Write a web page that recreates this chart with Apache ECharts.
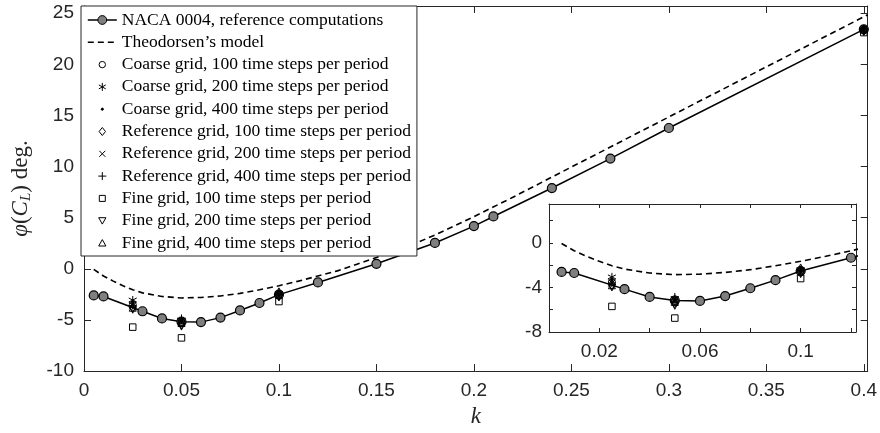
<!DOCTYPE html>
<html><head><meta charset="utf-8">
<script src="https://cdn.jsdelivr.net/npm/echarts@6/dist/echarts.min.js"></script>
<style>html,body{margin:0;padding:0;background:#fff}#c{width:880px;height:433px}</style>
</head><body><div id="c"></div>
<script>
// ---- data ----
const kRef   = [0.005, 0.01, 0.03, 0.04, 0.05, 0.06, 0.07, 0.08, 0.09, 0.1, 0.12, 0.15, 0.18, 0.2, 0.21, 0.24, 0.27, 0.3, 0.4];
const phiRef = [-2.6, -2.7, -4.15, -4.85, -5.17, -5.21, -4.77, -4.07, -3.34, -2.52, -1.33, 0.49, 2.53, 4.18, 5.12, 7.9, 10.78, 13.77, 23.42];
const kTheo   = [0.005, 0.01, 0.015, 0.02, 0.025, 0.03, 0.04, 0.05, 0.06, 0.07, 0.08, 0.09, 0.1, 0.11, 0.12, 0.13, 0.14, 0.15, 0.16, 0.17, 0.18, 0.19, 0.2, 0.22, 0.25, 0.3, 0.35, 0.4, 0.402];
const phiTheo = [-0.05, -0.7, -1.2, -1.65, -2.05, -2.35, -2.7, -2.85, -2.8, -2.65, -2.4, -2.05, -1.65, -1.2, -0.7, -0.2, 0.45, 1.1, 1.8, 2.5, 3.3, 4.2, 5.1, 7.0, 9.95, 14.85, 19.75, 24.65, 24.85];
const kStudy    = [0.025, 0.05, 0.1, 0.4];
const coarse100 = [-3.5, -5.2, -2.5, 23.4];
const coarse200 = [-3.05, -5.0, -2.4, 23.3];
const coarse400 = [-3.3, -5.1, -2.55, 23.4];
const ref100    = [-3.75, -5.4, -2.6, 23.3];
const ref200    = [-3.6, -5.2, -2.6, 23.4];
const ref400    = [-3.6, -4.85, -2.5, 23.2];
const fine100   = [-5.7, -6.75, -3.2, 23.1];
const fine200   = [-4.0, -5.65, -2.8, 23.2];
const fine400   = [-3.8, -5.3, -2.2, 23.5];
const seriesNames = [
  'NACA 0004, reference computations',
  'Theodorsen\u2019s model',
  'Coarse grid, 100 time steps per period',
  'Coarse grid, 200 time steps per period',
  'Coarse grid, 400 time steps per period',
  'Reference grid, 100 time steps per period',
  'Reference grid, 200 time steps per period',
  'Reference grid, 400 time steps per period',
  'Fine grid, 100 time steps per period',
  'Fine grid, 200 time steps per period',
  'Fine grid, 400 time steps per period'
];
const mainXTickLabels  = ['0', '0.05', '0.1', '0.15', '0.2', '0.25', '0.3', '0.35', '0.4'];
const mainYTickLabels  = ['-10', '-5', '0', '5', '10', '15', '20', '25'];
const insetXTickLabels = ['0.02', '0.06', '0.1'];
const insetYTickLabels = ['-8', '-4', '0'];

// ---- styling ----
const AX = '#262626';
const pad = 'M-5.5,-5.5M5.5,5.5';
const markerDefs = [
  { data: coarse100, symbol: 'circle', size: 7, fill: 'transparent',
    icon: 'path://' + pad + 'M-3.2,0A3.2,3.2,0,1,1,3.2,0A3.2,3.2,0,1,1,-3.2,0Z' },
  { data: coarse200, symbol: 'path://M0,-5L0,5M-4.33,-2.5L4.33,2.5M-4.33,2.5L4.33,-2.5', size: 8, fill: 'transparent',
    icon: 'path://' + pad + 'M0,-4L0,4M-3.46,-2L3.46,2M-3.46,2L3.46,-2' },
  { data: coarse400, symbol: 'circle', size: 3, fill: '#000',
    icon: 'path://' + pad + 'M-1.1,0A1.1,1.1,0,1,1,1.1,0A1.1,1.1,0,1,1,-1.1,0Z' },
  { data: ref100, symbol: 'diamond', size: [7, 9], fill: 'transparent',
    icon: 'path://' + pad + 'M0,-4L3.2,0L0,4L-3.2,0Z' },
  { data: ref200, symbol: 'path://M-4,-4L4,4M-4,4L4,-4', size: 7, fill: 'transparent',
    icon: 'path://' + pad + 'M-3,-3L3,3M-3,3L3,-3' },
  { data: ref400, symbol: 'path://M0,-5L0,5M-5,0L5,0', size: 8, fill: 'transparent',
    icon: 'path://' + pad + 'M0,-4L0,4M-4,0L4,0' },
  { data: fine100, symbol: 'rect', size: 6.5, fill: 'transparent',
    icon: 'path://' + pad + 'M-3,-3L3,-3L3,3L-3,3Z' },
  { data: fine200, symbol: 'path://M-5,-4.33L5,-4.33L0,4.33Z', size: 7, fill: 'transparent',
    icon: 'path://' + pad + 'M-3.6,-3L3.6,-3L0,3.4Z' },
  { data: fine400, symbol: 'path://M-5,4.33L5,4.33L0,-4.33Z', size: 7, fill: 'transparent',
    icon: 'path://' + pad + 'M-3.6,3L3.6,3L0,-3.4Z' }
];

function pairs(xs, ys) { return xs.map((x, i) => [x, ys[i]]); }
function fmt(list) {
  return v => { const s = String(+v.toFixed(3)); return list.includes(s) ? s : ''; };
}

const series = [];
[[0, 0], [2, 2]].forEach(([xi, yi]) => {
  series.push({
    name: seriesNames[0], type: 'line', xAxisIndex: xi, yAxisIndex: yi,
    data: pairs(kRef, phiRef), symbol: 'circle', symbolSize: 9, clip: true,
    lineStyle: { color: '#000', width: 1.5 },
    itemStyle: { color: '#7f7f7f', borderColor: '#000', borderWidth: 1.2 },
    z: 3, animation: false
  });
  series.push({
    name: seriesNames[1], type: 'line', xAxisIndex: xi, yAxisIndex: yi,
    data: pairs(kTheo, phiTheo), symbol: 'none', clip: true,
    lineStyle: { color: '#000', width: 1.6, type: [6, 4] },
    itemStyle: { color: 'transparent', borderColor: 'transparent' },
    z: 2, animation: false
  });
  markerDefs.forEach((m, j) => {
    series.push({
      name: seriesNames[j + 2], type: 'scatter', xAxisIndex: xi, yAxisIndex: yi,
      data: pairs(kStudy, m.data), symbol: m.symbol, symbolSize: m.size, clip: true,
      itemStyle: { color: m.fill, borderColor: '#000', borderWidth: 1, opacity: 1 },
      z: 4, animation: false
    });
  });
});

const legendData = [
  { name: seriesNames[0] },
  { name: seriesNames[1], itemStyle: { color: 'transparent', borderColor: 'transparent' } }
].concat(markerDefs.map((m, j) => ({ name: seriesNames[j + 2], icon: m.icon })));

const axisCommon = {
  type: 'value',
  axisLine: { show: true, onZero: false, lineStyle: { color: AX, width: 1 } },
  splitLine: { show: false },
  axisLabel: { color: AX, fontFamily: 'Liberation Sans', fontSize: 19, interval: 0 }
};

const option = {
  backgroundColor: '#fff',
  animation: false,
  grid: [
    { left: 81, top: 6, right: 8, bottom: 60, containLabel: false },
    { left: 549, top: 204, width: 307, height: 128, show: true, backgroundColor: '#fff', borderWidth: 0 }
  ],
  legend: {
    data: legendData, orient: 'vertical', left: 81, top: 6,
    padding: [5, 6, 4, 6], itemGap: 4.3, itemWidth: 29, itemHeight: 11,
    backgroundColor: '#fff', borderColor: AX, borderWidth: 1, borderRadius: 0,
    selectedMode: false, z: 10,
    itemStyle: { borderWidth: 1 },
    lineStyle: { width: 'inherit', type: 'inherit' },
    textStyle: { fontFamily: 'Liberation Serif', fontSize: 17.5, color: '#000', lineHeight: 17, padding: 0 }
  },
  xAxis: [
    Object.assign({}, axisCommon, {
      gridIndex: 0, position: 'bottom', min: 0, max: 0.402, interval: 0.05,
      axisTick: { show: true, inside: true, length: 7, lineStyle: { color: AX } },
      axisLabel: Object.assign({}, axisCommon.axisLabel, { margin: 10, formatter: fmt(mainXTickLabels) }),
      name: 'k', nameLocation: 'middle', nameGap: 28,
      nameTextStyle: { fontFamily: 'Liberation Serif', fontStyle: 'italic', fontSize: 23, color: AX }
    }),
    Object.assign({}, axisCommon, {
      gridIndex: 0, position: 'top', min: 0, max: 0.402, interval: 0.05,
      axisTick: { show: true, inside: true, length: 7, lineStyle: { color: AX } },
      axisLabel: { show: false }
    }),
    Object.assign({}, axisCommon, {
      gridIndex: 1, position: 'bottom', min: 0, max: 0.122, interval: 0.02,
      axisTick: { show: true, inside: true, length: 4, lineStyle: { color: AX } },
      axisLabel: Object.assign({}, axisCommon.axisLabel, { margin: 10, formatter: fmt(insetXTickLabels) })
    }),
    Object.assign({}, axisCommon, {
      gridIndex: 1, position: 'top', min: 0, max: 0.122, interval: 0.02,
      axisTick: { show: true, inside: true, length: 4, lineStyle: { color: AX } },
      axisLabel: { show: false }
    })
  ],
  yAxis: [
    Object.assign({}, axisCommon, {
      gridIndex: 0, position: 'left', min: -10, max: 25.7, interval: 5,
      axisTick: { show: true, inside: true, length: 7, lineStyle: { color: AX } },
      axisLabel: Object.assign({}, axisCommon.axisLabel, { margin: 10, formatter: fmt(mainYTickLabels) }),
      name: '{i|\u03c6}({i|C}{s|L}) deg.', nameLocation: 'middle', nameGap: 50,
      nameTextStyle: {
        fontFamily: 'Liberation Serif', fontSize: 23, color: AX, lineHeight: 26,
        rich: {
          i: { fontFamily: 'Liberation Serif', fontStyle: 'italic', fontSize: 23, color: AX, lineHeight: 26 },
          s: { fontFamily: 'Liberation Serif', fontStyle: 'italic', fontSize: 15, color: AX, lineHeight: 12, verticalAlign: 'bottom' }
        }
      }
    }),
    Object.assign({}, axisCommon, {
      gridIndex: 0, position: 'right', min: -10, max: 25.7, interval: 5,
      axisTick: { show: true, inside: true, length: 7, lineStyle: { color: AX } },
      axisLabel: { show: false }
    }),
    Object.assign({}, axisCommon, {
      gridIndex: 1, position: 'left', min: -8, max: 3.5, interval: 2,
      axisTick: { show: true, inside: true, length: 4, lineStyle: { color: AX } },
      axisLabel: Object.assign({}, axisCommon.axisLabel, { margin: 7, formatter: fmt(insetYTickLabels) })
    }),
    Object.assign({}, axisCommon, {
      gridIndex: 1, position: 'right', min: -8, max: 3.5, interval: 2,
      axisTick: { show: true, inside: true, length: 4, lineStyle: { color: AX } },
      axisLabel: { show: false }
    })
  ],
  series: series
};

const chart = echarts.init(document.getElementById('c'), null, { renderer: 'canvas' });
chart.setOption(option);
</script>
</body></html>
